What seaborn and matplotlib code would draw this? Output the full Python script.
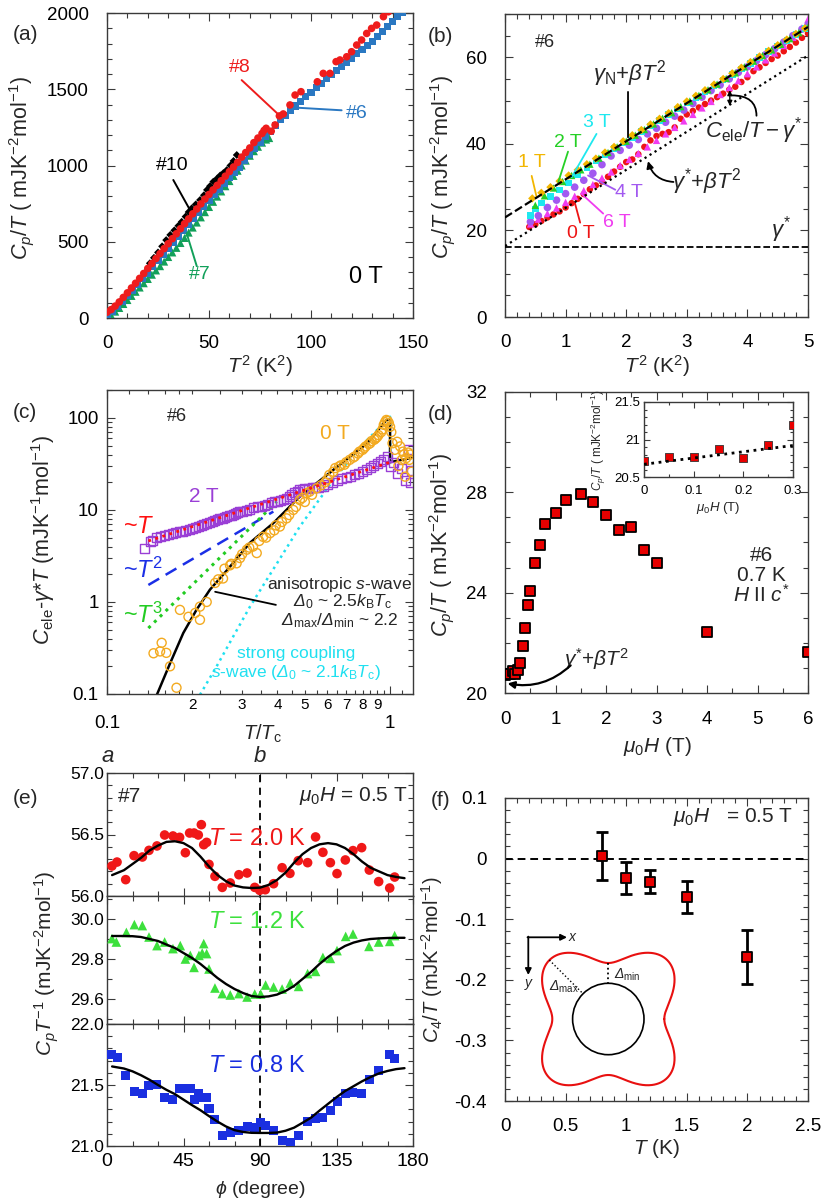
import numpy as np
import pandas as pd
import matplotlib
matplotlib.use("Agg")
import matplotlib.pyplot as plt
import seaborn as sns
from matplotlib.ticker import MultipleLocator, FixedLocator, FuncFormatter, NullFormatter, LogLocator
from matplotlib.patches import Circle

sns.set_theme(style="ticks")
plt.rcParams["font.family"] = ["Liberation Sans", "DejaVu Sans"]
plt.rcParams["mathtext.fontset"] = "custom"
plt.rcParams["mathtext.rm"] = "Liberation Sans"
plt.rcParams["mathtext.it"] = "Liberation Sans:italic"
plt.rcParams["mathtext.bf"] = "Liberation Sans:bold"
plt.rcParams["mathtext.sf"] = "Liberation Sans:italic"
plt.rcParams["mathtext.fallback"] = "stixsans"
plt.rcParams["axes.unicode_minus"] = False

# ---------------- panel (a): Cp/T vs T^2, 0 T ----------------
a6_t2 = [0, 2.5, 5, 7.5, 10, 12.5, 15, 17.5, 20, 22.5, 25, 27.5, 30, 32.5, 35, 37.5, 40, 42.5, 45, 47.5,
         50, 52.5, 55, 57.5, 60, 62.5, 65, 67.5, 70, 72.5, 75, 77.5, 80, 82.5, 85, 87.5, 90, 92.5, 95, 97.5,
         100, 102.5, 105, 107.5, 110, 112.5, 115, 117.5, 120, 122.5, 125, 127.5, 130, 132.5, 135, 137.5,
         140, 142.5, 145]
a6_c = [20, 45, 75, 110, 145, 182, 220, 257, 295, 335, 375, 415, 455, 495, 535, 575, 615, 655, 695, 732,
        770, 808, 845, 882, 920, 955, 990, 1030, 1070, 1110, 1150, 1188, 1225, 1262, 1300, 1330, 1360, 1390,
        1420, 1450, 1480, 1510, 1540, 1568, 1595, 1622, 1650, 1678, 1705, 1732, 1760, 1788, 1815, 1848,
        1880, 1912, 1945, 1975, 2005]
a8_t2 = [0, 2, 4, 6, 8, 10, 12, 14, 16, 18, 20, 22, 24, 26, 28, 30, 32, 34, 36, 38, 40, 42, 44, 46, 48,
         50, 52, 54, 56, 58, 60, 62, 64, 66, 68, 70, 72, 74, 76, 77, 78, 80.5, 82.4, 84.5, 86.4, 89.7, 92.2,
         95.1, 103.1, 106, 109.3, 112.3, 114.2, 117.5, 119.9, 122.4, 124.8, 127.3, 129.7, 132.2, 135.5, 137.9]
a8_c = [38, 55, 78, 105, 135, 165, 197, 228, 260, 292, 325, 357, 390, 422, 455, 487, 520, 552, 585, 618,
        650, 683, 715, 748, 780, 810, 840, 870, 900, 930, 960, 990, 1020, 1055, 1085, 1115, 1150, 1180,
        1210, 1230, 1244, 1225, 1266, 1325, 1338, 1397, 1462, 1484, 1549, 1604, 1604, 1681, 1692, 1713,
        1746, 1790, 1823, 1866, 1899, 1921, 1976, 2008]
a7_t2 = [0.5, 2, 4, 6, 8, 10, 12, 14, 16, 18, 20, 22, 24, 26, 28, 30, 32, 34, 36, 38, 40, 42, 44, 46, 48,
         50, 52, 54, 56, 58, 60, 62, 64, 66, 68, 70, 72, 74, 76, 78, 79.5]
a7_c = [5, 18, 42, 66, 92, 118, 145, 172, 200, 228, 256, 284, 312, 340, 370, 400, 430, 460, 492, 525,
        560, 593, 626, 660, 694, 728, 762, 796, 830, 864, 898, 932, 966, 1000, 1032, 1064, 1094, 1123,
        1150, 1170, 1180]
a10_t2 = [21, 23, 25, 27, 29, 31, 33, 35, 36.6, 38.5, 40, 41.5, 43.5, 45.6, 47.5, 49, 50.5, 52.1, 54,
          55.5, 57, 58.7, 60.5, 62, 63.6]
a10_c = [359, 395, 430, 470, 511, 545, 575, 605, 631, 665, 695, 719, 745, 774, 805, 840, 865, 894, 915,
         935, 950, 970, 1000, 1030, 1069]

# ---------------- panel (b): #6 in fields ----------------
b0_x = [0.4, 0.5, 0.6, 0.7, 0.8, 0.9, 1.0, 1.1, 1.2, 1.3, 1.4, 1.5, 1.6, 1.7, 1.8, 1.9, 2.0, 2.1, 2.2, 2.3,
        2.4, 2.5, 2.6, 2.7, 2.8, 2.9, 3.0, 3.1, 3.2, 3.3, 3.4, 3.5, 3.6, 3.7, 3.8, 3.9, 4.0, 4.1, 4.2, 4.3,
        4.4, 4.5, 4.6, 4.7, 4.8, 4.9, 5.0]
b0_y = [20.8, 21.4, 22.2, 23.0, 23.7, 24.4, 25.3, 26.3, 27.3, 28.4, 29.5, 30.4, 31.3, 32.4, 33.6, 34.7,
        35.8, 36.4, 37.6, 39.3, 40.8, 41.8, 42.3, 42.7, 43.8, 45.8, 46.8, 47.6, 48.4, 49.2, 50.0, 50.8,
        51.6, 52.5, 53.2, 54.3, 55.4, 56.8, 57.7, 58.7, 59.6, 60.4, 61.4, 62.4, 63.4, 64.5, 65.5]
b1_x = [0.45, 0.6, 0.75, 0.9, 1.05, 1.2, 1.35, 1.5, 1.65, 1.8, 1.95, 2.1, 2.25, 2.4, 2.55, 2.7, 2.85, 3.0,
        3.15, 3.3, 3.45, 3.6, 3.75, 3.9, 4.05, 4.2, 4.35, 4.5, 4.65, 4.8, 4.95]
b1_y = [27.4, 28.7, 30.0, 31.4, 32.7, 34.0, 35.3, 36.6, 38.0, 39.3, 40.6, 42.0, 43.2, 44.5, 45.8, 47.1,
        48.5, 49.8, 51.1, 52.4, 53.7, 55.0, 56.3, 57.6, 58.9, 60.2, 61.5, 62.8, 64.1, 65.4, 66.7]
b2_x = [0.5, 0.65, 0.8, 0.95, 1.1, 1.25, 1.4, 1.55, 1.7, 1.85, 2.0, 2.15, 2.3, 2.45, 2.6, 2.75, 2.9, 3.05,
        3.2, 3.35, 3.5, 3.65, 3.8, 3.95, 4.1, 4.25, 4.4, 4.55, 4.7, 4.85, 5.0]
b2_y = [25.8, 28.0, 29.8, 31.3, 32.7, 34.0, 35.3, 36.7, 38.0, 39.3, 40.6, 42.0, 43.3, 44.6, 45.9, 47.2,
        48.6, 49.9, 51.2, 52.5, 53.8, 55.1, 56.4, 57.8, 59.1, 60.4, 61.7, 63.0, 64.3, 65.7, 67.0]
b3_x = [0.42, 0.5, 0.6, 0.75, 0.9, 1.05, 1.2, 1.35, 1.5, 1.65, 1.8, 1.95, 2.1, 2.25, 2.4, 2.55, 2.7, 2.85,
        3.0, 3.15, 3.3, 3.45, 3.6, 3.75, 3.9, 4.05, 4.2, 4.35, 4.5, 4.65, 4.8, 4.95]
b3_y = [23.5, 25.0, 26.3, 27.8, 29.3, 31.0, 32.8, 34.5, 36.0, 37.5, 38.9, 40.2, 41.5, 42.8, 44.1, 45.4,
        46.8, 48.1, 49.4, 50.7, 52.0, 53.4, 54.7, 56.0, 57.3, 58.6, 60.0, 61.3, 62.6, 63.9, 65.3, 66.6]
b4_x = [0.42, 0.55, 0.7, 0.85, 1.0, 1.15, 1.3, 1.45, 1.6, 1.75, 1.9, 2.05, 2.2, 2.35, 2.5, 2.65, 2.8, 2.95,
        3.1, 3.25, 3.4, 3.55, 3.7, 3.85, 4.0, 4.15, 4.3, 4.45, 4.6, 4.75, 4.9, 5.0]
b4_y = [22.0, 23.4, 25.3, 27.0, 28.5, 30.0, 31.6, 33.2, 35.2, 37.2, 38.5, 39.7, 41.0, 42.3, 43.6, 45.0,
        46.4, 47.8, 49.3, 50.8, 52.3, 53.6, 55.0, 56.5, 57.8, 59.2, 60.6, 62.0, 63.5, 65.0, 66.5, 67.5]
b6_x = [0.42, 0.55, 0.7, 0.85, 1.0, 1.15, 1.3, 1.45, 1.6, 1.75, 1.9, 2.05, 2.2, 2.35, 2.5, 2.65, 2.8, 2.95,
        3.1, 3.25, 3.4, 3.55, 3.7, 3.85, 4.0, 4.15, 4.3, 4.45, 4.6, 4.75, 4.9, 5.0]
b6_y = [21.5, 22.6, 23.9, 25.2, 26.5, 27.9, 29.2, 30.6, 32.1, 33.5, 35.0, 36.4, 37.8, 39.3, 40.8, 42.3,
        43.8, 45.3, 46.8, 48.3, 49.8, 51.4, 53.0, 54.6, 56.2, 57.8, 59.4, 61.0, 62.7, 64.6, 66.8, 68.8]
bN_x = [0.0, 5.0]
bN_y = [23.0, 67.0]          # gamma_N + beta T^2
bS_x = [0.0, 5.0]
bS_y = [16.4, 60.4]          # gamma* + beta T^2
bG_x = [0.0, 5.0]
bG_y = [16.2, 16.2]          # gamma*

# ---------------- panel (c): log-log ----------------
c2_x = [0.136, 0.142, 0.145, 0.15, 0.155, 0.16, 0.165, 0.17, 0.175, 0.18, 0.185, 0.19, 0.195, 0.2, 0.205,
        0.21, 0.215, 0.22, 0.225, 0.23, 0.235, 0.24, 0.245, 0.25, 0.255, 0.26, 0.265, 0.27, 0.275, 0.28,
        0.285, 0.29, 0.295, 0.3, 0.31, 0.32, 0.33, 0.34, 0.35, 0.36, 0.37, 0.38, 0.39, 0.4, 0.41, 0.42, 0.43,
        0.44, 0.45, 0.46, 0.47, 0.48, 0.49, 0.5, 0.515, 0.53, 0.545, 0.56, 0.58, 0.6, 0.625, 0.65, 0.675,
        0.7, 0.725, 0.75, 0.775, 0.8, 0.825, 0.85, 0.875, 0.9, 0.925, 0.95, 0.98, 1.0, 1.03, 1.06, 1.1,
        1.13, 1.16, 1.18, 1.19]
c2_y = [3.8, 4.5, 4.7, 5.0, 5.1, 5.3, 5.4, 5.6, 5.7, 5.8, 5.9, 6.0, 6.1, 6.3, 6.4, 6.6, 6.8, 7.0, 7.1,
        7.3, 7.5, 7.7, 7.8, 8.0, 8.1, 8.3, 8.5, 8.7, 8.8, 9.0, 9.1, 9.3, 9.5, 9.6, 9.9, 10.2, 10.5, 10.8,
        11.0, 11.3, 11.6, 11.9, 12.2, 12.5, 12.8, 13.0, 13.4, 14.0, 14.8, 15.5, 16.0, 16.5, 16.8, 17.0,
        17.2, 17.5, 17.5, 17.5, 18.2, 19.0, 20.0, 21.0, 21.8, 22.5, 23.2, 24.0, 25.0, 26.0, 27.5, 29.0,
        30.5, 32.0, 33.5, 35.0, 38.0, 30.0, 33.0, 25.0, 28.0, 21.0, 45.0, 20.0, 27.0]
c0_x = [0.146, 0.154, 0.162, 0.176, 0.167, 0.156, 0.181, 0.194, 0.205, 0.213, 0.225, 0.213, 0.241, 0.247,
        0.257, 0.26, 0.272, 0.275, 0.287, 0.295, 0.30, 0.312, 0.318, 0.328, 0.338, 0.345, 0.356, 0.365,
        0.377, 0.39, 0.395, 0.408, 0.415, 0.431, 0.44, 0.455, 0.465, 0.48, 0.49, 0.5, 0.507, 0.52, 0.53,
        0.55, 0.57, 0.59, 0.6, 0.61, 0.63, 0.64, 0.66, 0.67, 0.69, 0.7, 0.72, 0.74, 0.75, 0.77, 0.78, 0.8,
        0.81, 0.82, 0.84, 0.85, 0.86, 0.88, 0.89, 0.9, 0.91, 0.93, 0.94, 0.95, 0.96, 0.97, 0.98, 0.99,
        1.0, 1.01, 1.02, 1.04, 1.06, 1.07, 1.085, 1.1, 1.11, 1.12, 1.13, 1.14, 1.16, 1.17, 1.18, 1.19]
c0_y = [0.277, 0.29, 0.28, 0.117, 0.2, 0.36, 0.82, 0.69, 0.76, 0.64, 1.0, 0.89, 1.61, 1.76, 1.8, 2.3, 2.5,
        2.6, 2.63, 3.0, 3.3, 3.7, 3.9, 4.0, 3.4, 4.6, 5.1, 5.0, 5.6, 6.0, 6.8, 6.6, 7.4, 8.1, 8.8, 10.0,
        10.8, 12.8, 13.5, 12.2, 15.2, 15.8, 14.6, 17.2, 18.5, 20.0, 21.5, 24.0, 26.0, 28.5, 29.6, 30.5, 31.0,
        33.0, 35.0, 37.0, 38.0, 41.0, 43.0, 45.0, 47.0, 49.0, 52.0, 53.0, 56.0, 58.0, 60.0, 62.0, 65.0,
        70.0, 75.0, 84.0, 90.0, 95.0, 93.0, 88.0, 80.0, 70.0, 53.0, 45.0, 55.0, 30.0, 49.0, 35.0, 43.0,
        40.0, 23.0, 36.6, 42.0, 35.0, 40.0, 26.0]
cA_x = [0.15, 0.167, 0.186, 0.207, 0.231, 0.265, 0.32, 0.387, 0.48, 0.63, 0.83, 0.97, 1.0, 1.0, 1.2]
cA_y = [0.098, 0.215, 0.46, 0.82, 1.36, 2.2, 4.4, 7.2, 14.0, 27.2, 53.0, 95.0, 97.0, 33.0, 37.0]
cS_x = [0.213, 0.244, 0.279, 0.32, 0.366, 0.42, 0.48, 0.55, 0.63, 0.72, 0.83, 0.95, 1.0, 1.0]
cS_y = [0.098, 0.2, 0.42, 0.89, 1.73, 3.4, 6.6, 11.8, 21.0, 35.0, 57.7, 87.5, 103.0, 33.0]
cT1_x = [0.14, 1.0]
cT1_y = [4.6, 33.0]
cT2_x = [0.14, 0.387]
cT2_y = [1.53, 9.6]
cT3_x = [0.14, 0.398]
cT3_y = [0.52, 12.3]

# ---------------- panel (d): field dependence ----------------
d_h = [0, 0.05, 0.1, 0.15, 0.2, 0.25, 0.3, 0.35, 0.4, 0.45, 0.5, 0.6, 0.7, 0.8, 1.0, 1.2, 1.5, 1.75,
       2.0, 2.25, 2.5, 2.75, 3.0, 4.0, 6.0]
d_c = [20.71, 20.77, 20.77, 20.87, 20.75, 20.93, 21.2, 21.87, 22.6, 23.52, 24.08, 25.17, 25.89, 26.72,
       27.17, 27.68, 27.92, 27.63, 27.09, 26.5, 26.61, 25.7, 25.2, 22.43, 21.63]
dL_h = [0.0, 0.3]
dL_c = [20.67, 20.92]

# ---------------- panel (e): angle dependence ----------------
e_phi = [2.9, 5.9, 11.0, 15.9, 20.8, 24.7, 29.4, 33.9, 38.8, 42.7, 46.1, 48.6, 51.2, 53.7, 55.5, 56.9,
         58.6, 60.0, 63.5, 67.8, 72.5, 77.6, 82.4, 86.9, 89.8, 93.1, 98.0, 103.0, 107.6, 112.5, 118.0,
         122.7, 127.0, 131.4, 135.3, 140.2, 144.7, 149.8, 154.3, 159.8, 166.3, 169.2]
e20 = [56.244, 56.276, 56.133, 56.328, 56.317, 56.371, 56.407, 56.496, 56.488, 56.477, 56.352, 56.512,
       56.512, 56.496, 56.58, 56.417, 56.436, 56.257, 56.16, 56.07, 56.106, 56.173, 56.187, 56.07, 56.046,
       56.051, 56.1, 56.23, 56.184, 56.287, 56.271, 56.48, 56.355, 56.271, 56.182, 56.293, 56.369, 56.393,
       56.211, 56.117, 56.065, 56.154]
e12_phi = [2.9, 5.5, 11.4, 16.1, 20.8, 24.7, 29.4, 33.9, 38.8, 43.1, 46.1, 49.0, 51.2, 54.1, 56.9, 56.0,
           58.6, 60.0, 63.5, 67.8, 72.5, 77.6, 82.4, 86.9, 90.4, 93.3, 98.0, 103.0, 107.8, 112.7, 118.0,
           122.7, 127.0, 131.4, 135.3, 140.4, 144.7, 154.1, 159.8, 166.3, 169.2]
e12 = [29.902, 29.885, 29.933, 29.972, 29.967, 29.91, 29.867, 29.885, 29.852, 29.867, 29.8, 29.818,
       29.758, 29.818, 29.877, 29.83, 29.827, 29.75, 29.655, 29.627, 29.62, 29.627, 29.61, 29.625, 29.625,
       29.67, 29.66, 29.65, 29.68, 29.663, 29.727, 29.738, 29.808, 29.803, 29.842, 29.913, 29.925, 29.863,
       29.885, 29.888, 29.917]
e08_phi = [2.9, 5.9, 11.0, 15.9, 20.6, 24.7, 29.4, 33.9, 38.8, 42.7, 46.1, 49.0, 51.2, 54.1, 56.9, 58.6,
           60.0, 63.5, 67.8, 72.5, 77.6, 82.4, 86.9, 90.4, 93.3, 98.0, 103.0, 107.8, 112.7, 118.0, 122.7,
           127.0, 131.4, 135.3, 140.2, 144.7, 149.8, 154.3, 159.8, 166.3, 169.2]
e08 = [21.753, 21.729, 21.575, 21.447, 21.427, 21.493, 21.501, 21.397, 21.384, 21.471, 21.471, 21.474,
       21.378, 21.43, 21.397, 21.397, 21.31, 21.219, 21.09, 21.112, 21.126, 21.159, 21.153, 21.192, 21.164,
       21.126, 21.044, 21.027, 21.09, 21.2, 21.222, 21.233, 21.288, 21.362, 21.427, 21.438, 21.43, 21.542,
       21.622, 21.748, 21.718]
ef_phi = [3, 10, 15, 20, 25, 30, 35, 40, 45, 50, 55, 60, 65, 70, 75, 80, 85, 90, 95, 100, 105, 110, 115,
          120, 125, 130, 135, 140, 145, 150, 155, 160, 165, 170, 175]
ef20 = [56.17, 56.21, 56.26, 56.31, 56.37, 56.41, 56.44, 56.445, 56.43, 56.39, 56.32, 56.24, 56.17, 56.12,
        56.085, 56.07, 56.065, 56.068, 56.09, 56.13, 56.19, 56.27, 56.34, 56.39, 56.42, 56.43, 56.42, 56.39,
        56.34, 56.28, 56.23, 56.2, 56.17, 56.155, 56.145]
ef12 = [29.915, 29.915, 29.914, 29.91, 29.9, 29.89, 29.872, 29.855, 29.83, 29.805, 29.775, 29.74, 29.705,
        29.675, 29.65, 29.63, 29.615, 29.61, 29.613, 29.622, 29.64, 29.665, 29.7, 29.735, 29.775, 29.81,
        29.84, 29.865, 29.882, 29.893, 29.9, 29.903, 29.905, 29.906, 29.906]
ef08 = [21.652, 21.635, 21.612, 21.58, 21.543, 21.5, 21.46, 21.425, 21.38, 21.335, 21.293, 21.245, 21.2,
        21.16, 21.13, 21.115, 21.108, 21.107, 21.107, 21.11, 21.125, 21.15, 21.19, 21.232, 21.29, 21.345,
        21.4, 21.45, 21.49, 21.53, 21.565, 21.595, 21.615, 21.63, 21.638]

# ---------------- panel (f): C4/T ----------------
f_t = [0.8, 1.0, 1.2, 1.5, 2.0]
f_c4 = [0.004, -0.032, -0.038, -0.063, -0.162]
f_err = [0.04, 0.026, 0.019, 0.026, 0.045]
# gap schematic (inset of f), in pixel-like units
gap_core_r = 35.7
gap_min = 20.3
gap_max = 47.6

# ======================================================================
W, H = 830, 1201
fig = plt.figure(figsize=(W / 100, H / 100), dpi=100)
fig.patch.set_facecolor("white")

SP = "#3a3a3a"


def axp(l, t, r, b):
    return fig.add_axes([l / W, 1 - b / H, (r - l) / W, (b - t) / H])


def ftext(x, y, s, size=15, rot=0, **kw):
    fig.text(x / W, 1 - y / H, s, ha="center", va="center", fontsize=size, rotation=rot, **kw)


def style(ax, size=13, xpad=12, ypad=13):
    ax.set_facecolor("white")
    ax.grid(False)
    ax.tick_params(which="both", direction="in", top=True, right=True, color=SP, width=0.8,
                   labelcolor="black")
    ax.tick_params(which="major", length=6)
    ax.tick_params(which="minor", length=3.5)
    ax.tick_params(axis="x", which="major", labelsize=size, pad=xpad)
    ax.tick_params(axis="y", which="major", labelsize=size, pad=ypad)
    for sp in ax.spines.values():
        sp.set_color(SP)
        sp.set_linewidth(1.0)
        sp.set_visible(True)
    ax.set_xlabel("")
    ax.set_ylabel("")


gfmt = FuncFormatter(lambda v, p: "%g" % v)


def scat(ax, x, y, marker, color, s, ec="none", lw=0, fc=None, z=3):
    kw = dict(x=x, y=y, ax=ax, marker=marker, color=color, s=s, edgecolor=ec, linewidth=lw,
              legend=False, zorder=z)
    if fc is not None:
        kw["facecolor"] = fc
    sns.scatterplot(**kw)


def line(ax, x, y, color="k", ls="-", lw=1.5, z=4):
    sns.lineplot(x=x, y=y, ax=ax, color=color, linestyle=ls, linewidth=lw, sort=False,
                 estimator=None, legend=False, zorder=z)


def tline(ax, x0, y0, x1, y1, color, lw=1.4):
    ax.annotate("", xy=(x1, y1), xytext=(x0, y0),
                arrowprops=dict(arrowstyle="-", color=color, lw=lw, shrinkA=0, shrinkB=0))


# ---------------- (a) ----------------
ax = axp(107, 13, 413, 318)
scat(ax, a7_t2, a7_c, "^", "#12a05a", 34)
scat(ax, a6_t2, a6_c, "s", "#2a78c2", 26)
scat(ax, a10_t2, a10_c, "D", "black", 16)
scat(ax, a8_t2, a8_c, "o", "#ee1c1c", 30, z=4)
ax.set_xlim(0, 150)
ax.set_ylim(0, 2000)
style(ax, size=13.5, xpad=12, ypad=13)
ax.xaxis.set_major_locator(MultipleLocator(50))
ax.xaxis.set_minor_locator(MultipleLocator(10))
ax.yaxis.set_major_locator(MultipleLocator(500))
ax.yaxis.set_minor_locator(MultipleLocator(100))
ax.xaxis.set_major_formatter(gfmt)
ax.yaxis.set_major_formatter(gfmt)
ax.text(65, 1640, "#8", color="#ee1c1c", fontsize=14, ha="center", va="center")
tline(ax, 66, 1560, 84, 1335, "#ee1c1c")
ax.text(122.5, 1344, "#6", color="#2a78c2", fontsize=14, ha="center", va="center")
tline(ax, 115, 1362, 92, 1380, "#2a78c2")
ax.text(32, 1000, "#10", color="black", fontsize=14, ha="center", va="center")
tline(ax, 32.5, 905, 40.7, 708, "black")
ax.text(45.6, 282, "#7", color="#12a05a", fontsize=14, ha="center", va="center")
tline(ax, 44, 340, 39, 557, "#12a05a")
ax.text(127, 270, "0 T", color="black", fontsize=17, ha="center", va="center")
ftext(25, 35, "(a)", size=15)
ftext(22, 168, "$C_p/T$ ( mJK$^{-2}$mol$^{-1}$)", size=15.5, rot=90)
ftext(260, 366, "$T^2$ (K$^2$)", size=15)

# ---------------- (b) ----------------
ax = axp(505, 14, 808, 317)
scat(ax, b0_x, b0_y, "o", "#ee1414", 22)
scat(ax, b6_x, b6_y, "^", "#f03cf0", 28)
scat(ax, b4_x, b4_y, "o", "#a259f0", 30)
scat(ax, b3_x, b3_y, "s", "#1ee8ef", 22)
scat(ax, b2_x, b2_y, "^", "#25d025", 28)
scat(ax, b1_x, b1_y, "D", "#f2b600", 18)
line(ax, bN_x, bN_y, "black", "--", 1.6, z=5)
line(ax, bS_x, bS_y, "black", ":", 1.6, z=5)
line(ax, bG_x, bG_y, "black", "--", 1.3, z=5)
ax.set_xlim(0, 5)
ax.set_ylim(0, 70)
style(ax, size=13.5, xpad=12, ypad=13)
ax.xaxis.set_major_locator(MultipleLocator(1))
ax.xaxis.set_minor_locator(MultipleLocator(0.2))
ax.yaxis.set_major_locator(MultipleLocator(20))
ax.yaxis.set_minor_locator(MultipleLocator(5))
ax.xaxis.set_major_formatter(gfmt)
ax.yaxis.set_major_formatter(gfmt)
ax.text(0.66, 63.5, "#6", fontsize=13, ha="center", va="center")
for lab, col, tx, ty, x0, y0, x1, y1 in [
        ("1 T", "#f2b600", 0.44, 35.8, 0.44, 32.6, 0.52, 27.8),
        ("2 T", "#25d025", 1.04, 40.4, 1.04, 38.2, 0.88, 31.2),
        ("3 T", "#1ee8ef", 1.51, 45.0, 1.51, 42.3, 1.10, 32.3),
        ("4 T", "#a259f0", 2.05, 28.7, 1.82, 29.4, 1.37, 32.7),
        ("6 T", "#f03cf0", 1.85, 21.9, 1.62, 23.9, 1.26, 28.5),
        ("0 T", "#ee1414", 1.25, 19.2, 1.24, 21.8, 1.15, 26.5)]:
    ax.text(tx, ty, lab, color=col, fontsize=14, ha="center", va="center")
    tline(ax, x0, y0, x1, y1, col, lw=1.3)
ax.text(2.06, 56.3, r"$\gamma_{\rm N}$+$\beta T^2$", fontsize=16, ha="center", va="center")
tline(ax, 2.03, 52.0, 2.03, 41.5, "black", lw=1.3)
ax.text(4.1, 43.0, r"$C_{\rm ele}/T-\gamma^{*}$", fontsize=16, ha="center", va="center")
ax.annotate("", xy=(3.71, 48.8), xytext=(3.71, 52.4),
            arrowprops=dict(arrowstyle="<|-|>", color="black", lw=1.0, shrinkA=0, shrinkB=0,
                            mutation_scale=7))
ax.annotate("", xy=(4.15, 46.5), xytext=(3.74, 51.2),
            arrowprops=dict(arrowstyle="-", color="black", lw=1.3, shrinkA=0, shrinkB=0,
                            connectionstyle="angle3,angleA=0,angleB=90"))
ax.text(3.33, 31.2, r"$\gamma^{*}$+$\beta T^2$", fontsize=16, ha="center", va="center")
ax.annotate("", xy=(2.36, 36.0), xytext=(2.78, 31.2),
            arrowprops=dict(arrowstyle="-|>", color="black", lw=1.3, shrinkA=0, shrinkB=0,
                            mutation_scale=10, connectionstyle="arc3,rad=-0.35"))
ax.text(4.55, 20.2, r"$\gamma^{*}$", fontsize=16, ha="center", va="center")
ftext(440, 37, "(b)", size=15)
ftext(442, 167, "$C_p/T$ ( mJK$^{-2}$mol$^{-1}$)", size=15.5, rot=90)
ftext(657, 366, "$T^2$ (K$^2$)", size=15)

# ---------------- (c) ----------------
ax = axp(107, 390, 413, 694)
ax.set_xscale("log")
ax.set_yscale("log")
line(ax, cS_x, cS_y, "#1fe0f0", ":", 1.8, z=2)
line(ax, cA_x, cA_y, "black", "-", 1.8, z=2)
line(ax, cT2_x, cT2_y, "#1b2fe6", (0, (5, 3)), 1.8, z=2)
line(ax, cT3_x, cT3_y, "#22cc22", ":", 2.2, z=2)
scat(ax, c2_x, c2_y, "s", "#9a3fd6", 42, ec="#9a3fd6", lw=1.0, fc="none", z=3)
scat(ax, c0_x, c0_y, "o", "#f3aa20", 42, ec="#f3aa20", lw=1.0, fc="none", z=3)
line(ax, cT1_x, cT1_y, "#ff1010", ":", 2.0, z=5)
ax.set_xlim(0.1, 1.205)
ax.set_ylim(0.1, 201)
style(ax, size=13.5, xpad=15, ypad=6)
ax.xaxis.set_major_locator(FixedLocator([0.1, 1]))
ax.xaxis.set_major_formatter(gfmt)
ax.xaxis.set_minor_locator(FixedLocator([0.12, 0.14, 0.16, 0.18, 0.2, 0.25, 0.3, 0.35, 0.4, 0.45, 0.5,
                                         0.55, 0.6, 0.65, 0.7, 0.75, 0.8, 0.85, 0.9, 0.95, 1.1]))
ax.xaxis.set_minor_formatter(FuncFormatter(
    lambda v, p: ("%d" % round(v * 10)) if (abs(v * 10 - round(v * 10)) < 1e-6 and 2 <= round(v * 10) <= 9) else ""))
ax.tick_params(axis="x", which="minor", labelsize=11, pad=3, length=3)
ax.yaxis.set_major_locator(FixedLocator([0.1, 1, 10, 100]))
ax.yaxis.set_major_formatter(gfmt)
ax.yaxis.set_minor_locator(LogLocator(base=10, subs=np.arange(2, 10) * 1.0))
ax.yaxis.set_minor_formatter(NullFormatter())
ax.text(0.176, 103, "#6", fontsize=13, ha="center", va="center")
ax.text(0.64, 68, "0 T", color="#f3aa20", fontsize=15, ha="center", va="center")
ax.text(0.22, 14, "2 T", color="#9a3fd6", fontsize=15, ha="center", va="center")
ax.text(0.114, 6.6, r"~$T$", color="#ff1010", fontsize=17, ha="left", va="center")
ax.text(0.114, 2.2, r"~$T^2$", color="#1b2fe6", fontsize=17, ha="left", va="center")
ax.text(0.114, 0.72, r"~$T^3$", color="#22cc22", fontsize=17, ha="left", va="center")
ax.text(0.665, 1.55, "anisotropic $s$-wave", fontsize=12.5, ha="center", va="center")
ax.text(0.68, 1.0, r"$\mathsf{\Delta}_0$ ~ 2.5$k_{\rm B}T_{\rm c}$", fontsize=12.5, ha="center", va="center")
ax.text(0.665, 0.62, r"$\mathsf{\Delta}_{\rm max}/\mathsf{\Delta}_{\rm min}$ ~ 2.2", fontsize=12.5,
        ha="center", va="center")
tline(ax, 0.395, 0.93, 0.241, 1.29, "black", lw=1.3)
ax.text(0.465, 0.275, "strong coupling", color="#1fe0f0", fontsize=12.5, ha="center", va="center")
ax.text(0.465, 0.17, r"$s$-wave ($\mathsf{\Delta}_0$ ~ 2.1$k_{\rm B}T_{\rm c}$)", color="#1fe0f0",
        fontsize=12.5, ha="center", va="center")
ftext(25, 413, "(c)", size=15)
ftext(43, 540, r"$C_{\rm ele}$-$\gamma$*$T$ (mJK$^{-1}$mol$^{-1}$)", size=15.5, rot=90)
ftext(262, 734, r"$T/T_{\rm c}$", size=14.5)

# ---------------- (d) ----------------
ax = axp(505, 392, 808, 693)
scat(ax, d_h, d_c, "s", "#e80000", 60, ec="black", lw=1.3)
ax.set_xlim(0, 6)
ax.set_ylim(20, 32)
style(ax, size=13.5, xpad=13, ypad=13)
ax.xaxis.set_major_locator(MultipleLocator(1))
ax.xaxis.set_minor_locator(MultipleLocator(0.5))
ax.yaxis.set_major_locator(MultipleLocator(4))
ax.yaxis.set_minor_locator(MultipleLocator(1))
ax.xaxis.set_major_formatter(gfmt)
ax.yaxis.set_major_formatter(gfmt)
ax.text(5.08, 25.5, "#6", fontsize=15, ha="center", va="center")
ax.text(5.08, 24.7, "0.7 K", fontsize=15, ha="center", va="center")
ax.text(5.08, 23.9, r"$H$ II $c^{*}$", fontsize=15, ha="center", va="center")
ax.text(1.82, 21.37, r"$\gamma^{*}$+$\beta T^2$", fontsize=15, ha="center", va="center")
ax.annotate("", xy=(0.05, 20.38), xytext=(1.3, 21.1),
            arrowprops=dict(arrowstyle="-|>", color="black", lw=1.6, shrinkA=0, shrinkB=0,
                            mutation_scale=10, connectionstyle="arc3,rad=-0.25"))
ftext(440, 415, "(d)", size=15)
ftext(441, 545, "$C_p/T$ ( mJK$^{-2}$mol$^{-1}$)", size=15.5, rot=90)
ftext(657, 747, r"$\mu_0H$ (T)", size=15)
# inset
axi = axp(644, 402, 793, 477)
scat(axi, d_h[:7], d_c[:7], "s", "#e80000", 26, ec="#333333", lw=0.6)
line(axi, dL_h, dL_c, "black", ":", 2.0)
axi.set_xlim(0, 0.3)
axi.set_ylim(20.5, 21.5)
style(axi, size=9.5, xpad=6, ypad=3)
axi.tick_params(which="major", length=4)
axi.tick_params(which="minor", length=2)
axi.xaxis.set_major_locator(MultipleLocator(0.1))
axi.xaxis.set_minor_locator(MultipleLocator(0.05))
axi.yaxis.set_major_locator(MultipleLocator(0.5))
axi.yaxis.set_minor_locator(MultipleLocator(0.1))
axi.xaxis.set_major_formatter(gfmt)
axi.yaxis.set_major_formatter(gfmt)
ftext(598, 440, "$C_p/T$ ( mJK$^{-2}$mol$^{-1}$)", size=8.5, rot=90)
ftext(718, 508, r"$\mu_0H$ (T)", size=9.5)

# ---------------- (e) ----------------
e_axes = []
for (t, b, lo, hi, px, py, fx, fy, col, mk, lab, ly) in [
        (773, 896, 56.0, 57.0, e_phi, e20, ef_phi, ef20, "#f01818", "o", "$T$ = 2.0 K", 56.466),
        (896, 1024, 29.475, 30.115, e12_phi, e12, ef_phi, ef12, "#3de03d", "^", "$T$ = 1.2 K", 29.985),
        (1024, 1146, 21.0, 22.0, e08_phi, e08, ef_phi, ef08, "#1a2fe0", "s", "$T$ = 0.8 K", 21.652)]:
    ax = axp(107, t, 413, b)
    scat(ax, px, py, mk, col, 48 if mk != "s" else 42)
    line(ax, fx, fy, "black", "-", 1.7)
    ax.axvline(90, color="black", ls=(0, (4, 3)), lw=1.3, zorder=1)
    ax.set_xlim(0, 180)
    ax.set_ylim(lo, hi)
    style(ax, size=12.5, xpad=5, ypad=2)
    ax.xaxis.set_major_locator(MultipleLocator(45))
    ax.xaxis.set_minor_locator(MultipleLocator(15))
    ax.yaxis.set_major_locator(FixedLocator([v for v in [21.0, 21.5, 22.0, 29.6, 29.8, 30.0, 56.0, 56.5, 57.0]
                                             if lo - 1e-6 <= v <= hi + 1e-6]))
    ax.yaxis.set_minor_locator(MultipleLocator(0.1))
    ax.yaxis.set_major_formatter(FuncFormatter(lambda v, p: "%.1f" % v))
    ax.xaxis.set_major_formatter(gfmt)
    ax.text(88, ly, lab, color=col, fontsize=17, ha="center", va="center")
    e_axes.append(ax)
for ax in e_axes[:2]:
    ax.tick_params(axis="x", which="both", labelbottom=False)
e_axes[2].tick_params(axis="x", labelsize=14)
e_axes[0].text(13.5, 56.81, "#7", fontsize=15, ha="center", va="center")
e_axes[0].text(177, 56.81, r"$\mu_0H$ = 0.5 T", fontsize=15, ha="right", va="center")
ftext(108, 757, "$a$", size=16)
ftext(260, 757, "$b$", size=16)
ftext(25, 798, "(e)", size=15)
ftext(47, 963, "$C_pT^{-1}$ (mJK$^{-2}$mol$^{-1}$)", size=15, rot=90)
ftext(260, 1190, r"$\phi$ (degree)", size=14)

# ---------------- (f) ----------------
ax = axp(505, 798, 808, 1101)
ax.errorbar(f_t, f_c4, yerr=f_err, fmt="none", ecolor="black", elinewidth=2.0, capsize=4, capthick=2.0,
            zorder=2)
scat(ax, f_t, f_c4, "s", "#e80000", 60, ec="black", lw=1.3)
ax.axhline(0, color="black", ls=(0, (4, 2.5)), lw=1.4, zorder=1)
ax.set_xlim(0, 2.5)
ax.set_ylim(-0.4, 0.1)
style(ax, size=13.5, xpad=12.5, ypad=13)
ax.xaxis.set_major_locator(MultipleLocator(0.5))
ax.xaxis.set_minor_locator(MultipleLocator(0.1))
ax.yaxis.set_major_locator(MultipleLocator(0.1))
ax.yaxis.set_minor_locator(MultipleLocator(0.02))
ax.xaxis.set_major_formatter(gfmt)
ax.yaxis.set_major_formatter(gfmt)
ax.text(1.88, 0.068, r"$\mu_0H$   = 0.5 T", fontsize=15, ha="center", va="center")
ftext(441, 800, "(f)", size=15)
ftext(432, 960, "$C_4/T$ (mJK$^{-2}$mol$^{-1}$)", size=14.5, rot=90)
ftext(657, 1148, "$T$ (K)", size=15)

# gap schematic inset
axg = axp(520, 925, 700, 1105)
axg.set_xlim(520, 700)
axg.set_ylim(1105, 925)
axg.axis("off")
cx, cy = 608.3, 1019.0
th = np.linspace(0, 2 * np.pi, 721)
gap = (gap_max + gap_min) / 2 - (gap_max - gap_min) / 2 * np.cos(4 * th)
rr = gap_core_r + gap
axg.plot(cx + rr * np.cos(th), cy + rr * np.sin(th), color="#e81010", lw=1.5)
axg.add_patch(Circle((cx, cy), gap_core_r, fill=False, ec="black", lw=1.2))
d45 = (gap_core_r + gap_max) / np.sqrt(2)
c45 = gap_core_r / np.sqrt(2)
axg.plot([cx - d45, cx - c45], [cy - d45, cy - c45], color="black", ls=":", lw=1.0)
axg.plot([cx, cx], [cy - gap_core_r - gap_min, cy - gap_core_r], color="black", ls=":", lw=1.3)
axg.annotate("", xy=(567, 937.3), xytext=(527.5, 937.3),
             arrowprops=dict(arrowstyle="-|>", color="black", lw=1.3, shrinkA=0, shrinkB=0, mutation_scale=9))
axg.annotate("", xy=(528.3, 975), xytext=(528.3, 936.6),
             arrowprops=dict(arrowstyle="-|>", color="black", lw=1.3, shrinkA=0, shrinkB=0, mutation_scale=9))
axg.text(573, 937.3, "$x$", fontsize=10, ha="center", va="center")
axg.text(529, 985, "$y$", fontsize=10, ha="center", va="center")
axg.text(564, 987, r"$\mathsf{\Delta}_{\rm max}$", fontsize=10, ha="center", va="center")
axg.text(627, 975, r"$\mathsf{\Delta}_{\rm min}$", fontsize=10, ha="center", va="center")

fig.savefig("out.png", dpi=100, facecolor="white")
